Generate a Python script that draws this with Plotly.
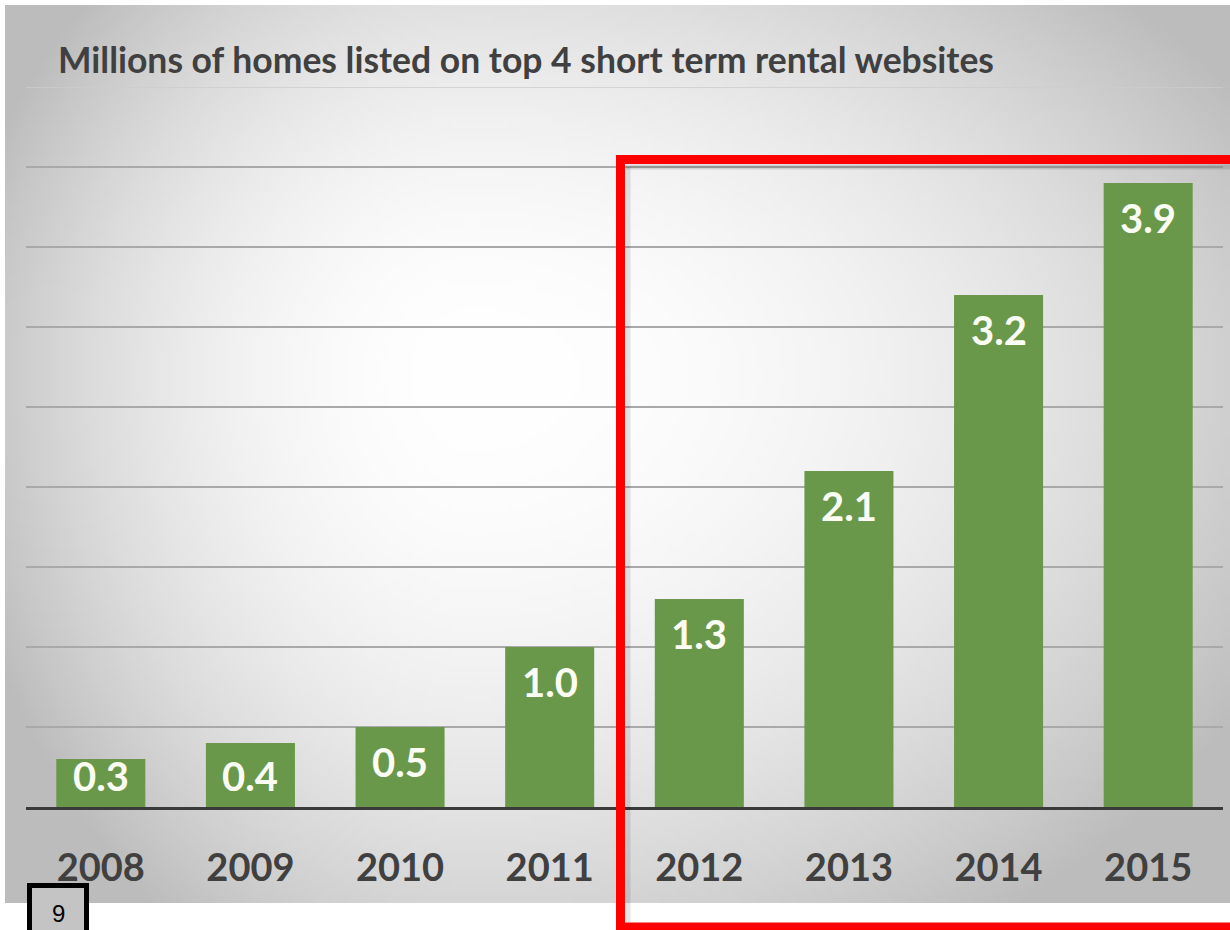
import base64
import struct
import zlib

import numpy as np
import plotly.graph_objects as go

# ---- data -------------------------------------------------------------
years = ["2008", "2009", "2010", "2011", "2012", "2013", "2014", "2015"]
homes_millions = [0.3, 0.4, 0.5, 1.0, 1.3, 2.1, 3.2, 3.9]
y_ticks = [0, 0.5, 1.0, 1.5, 2.0, 2.5, 3.0, 3.5, 4.0]
y_top = 4.5
title_text = "Millions of homes listed on top 4 short term rental websites"
page_number = "9"

# ---- canvas geometry --------------------------------------------------
W, H = 1230, 930
M_L, M_R, M_T, M_B = 26, 7, 87, 123
PLOT_W = W - M_L - M_R
PLOT_H = H - M_T - M_B
PX_PER_UNIT = PLOT_H / y_top


def px_x(px):
    """pixel column -> paper x"""
    return (px - M_L) / PLOT_W


def px_y(py):
    """pixel row (from top) -> paper y"""
    return (H - M_B - py) / PLOT_H


# ---- soft radial grey backdrop (encoded as a small PNG) ---------------
def gray_png(arr):
    h, w = arr.shape
    raw = b"".join(b"\x00" + row.tobytes() for row in arr)

    def chunk(tag, data):
        return (struct.pack(">I", len(data)) + tag + data
                + struct.pack(">I", zlib.crc32(tag + data) & 0xFFFFFFFF))

    png = (b"\x89PNG\r\n\x1a\n"
           + chunk(b"IHDR", struct.pack(">IIBBBBB", w, h, 8, 0, 0, 0, 0))
           + chunk(b"IDAT", zlib.compress(raw, 9))
           + chunk(b"IEND", b""))
    return "data:image/png;base64," + base64.b64encode(png).decode()


PANEL = (5, 5, 1230, 903)  # x0, y0, x1, y1 in pixels
pw, ph = PANEL[2] - PANEL[0], PANEL[3] - PANEL[1]
step = 5
gx = np.arange(0, pw, step) + PANEL[0]
gy = np.arange(0, ph, step) + PANEL[1]
XX, YY = np.meshgrid(gx, gy)
cx, cy = 470.0, 370.0
rx = np.where(XX < cx, 500.0, 850.0)
ry = np.where(YY < cy, 520.0, 640.0)
r = np.sqrt(((XX - cx) / rx) ** 2 + ((YY - cy) / ry) ** 2)
shade = 255 - 60 * np.clip(r, 0, 1.05) ** 2
backdrop = gray_png(np.clip(shade, 0, 255).astype(np.uint8))

# ---- figure -----------------------------------------------------------
fig = go.Figure()

fig.add_trace(go.Bar(
    x=list(range(len(years))),
    y=homes_millions,
    marker=dict(color="#6a984a", line=dict(width=0)),
    hovertext=years,
    hoverinfo="text+y",
))

label_font = dict(family="Lato", size=40, color="#fbfdf5", weight="bold")
annotations = []
for i, v in enumerate(homes_millions):
    # inside-end label, kept clear of the baseline on short bars
    centre = max(v - 35 / PX_PER_UNIT, 31 / PX_PER_UNIT)
    annotations.append(dict(
        x=i, y=centre, xref="x", yref="y", text=f"{v:.1f}",
        showarrow=False, xanchor="center", yanchor="middle",
        font=label_font,
    ))

annotations.append(dict(
    x=px_x(56), y=px_y(60), xref="paper", yref="paper",
    text=title_text, showarrow=False, xanchor="left", yanchor="middle",
    font=dict(family="Lato", size=35.5, color="#404040", weight="bold"),
))
annotations.append(dict(
    x=px_x(58), y=px_y(914), xref="paper", yref="paper",
    text=page_number, showarrow=False, xanchor="center", yanchor="middle",
    font=dict(family="Liberation Sans", size=24, color="#000000"),
    borderpad=0,
))

shapes = [
    # top gridline at the axis ceiling
    dict(type="line", xref="paper", yref="y", x0=0, x1=1, y0=y_top, y1=y_top,
         line=dict(color="#cdcdcd", width=1.5), layer="below"),
    # slide number box
    dict(type="rect", xref="paper", yref="paper",
         x0=px_x(29.5), x1=px_x(86.5), y0=px_y(885.5), y1=px_y(940),
         line=dict(color="#000000", width=5), fillcolor="#c4c4c4",
         layer="above"),
    # soft shadow inside the highlight frame
    dict(type="line", xref="paper", yref="paper",
         x0=px_x(626), x1=px_x(1240), y0=px_y(167), y1=px_y(167),
         line=dict(color="rgba(0,0,0,0.12)", width=5), layer="above"),
    dict(type="line", xref="paper", yref="paper",
         x0=px_x(628), x1=px_x(628), y0=px_y(167), y1=px_y(922),
         line=dict(color="rgba(0,0,0,0.10)", width=5), layer="above"),
    # red highlight frame around 2012-2015
    dict(type="rect", xref="paper", yref="paper",
         x0=px_x(620.5), x1=px_x(1245), y0=px_y(159.5), y1=px_y(927),
         line=dict(color="#ff0000", width=9), fillcolor="rgba(0,0,0,0)",
         layer="above"),
]

fig.update_layout(
    width=W, height=H,
    margin=dict(l=M_L, r=M_R, t=M_T, b=M_B, pad=0),
    paper_bgcolor="#ffffff",
    plot_bgcolor="rgba(0,0,0,0)",
    bargap=0.405,
    showlegend=False,
    annotations=annotations,
    shapes=shapes,
    images=[dict(
        source=backdrop, xref="paper", yref="paper",
        x=px_x(PANEL[0]), y=px_y(PANEL[1]),
        sizex=px_x(PANEL[2]) - px_x(PANEL[0]),
        sizey=px_y(PANEL[1]) - px_y(PANEL[3]),
        xanchor="left", yanchor="top", sizing="stretch", layer="below",
    )],
    xaxis=dict(
        range=[-0.5, len(years) - 0.5],
        tickvals=list(range(len(years))), ticktext=years,
        showgrid=False, zeroline=False,
        showline=True, linecolor="#3a3a3a", linewidth=2.5,
        ticks="", ticklabelstandoff=26,
        tickfont=dict(family="Lato", size=38, color="#404040", weight="bold"),
        fixedrange=True,
    ),
    yaxis=dict(
        range=[0, y_top], tickvals=y_ticks, showticklabels=False,
        showgrid=True, gridcolor="#a9a9a9", gridwidth=1.5,
        zeroline=False, showline=False, fixedrange=True,
    ),
)

fig.write_html("out.html")
